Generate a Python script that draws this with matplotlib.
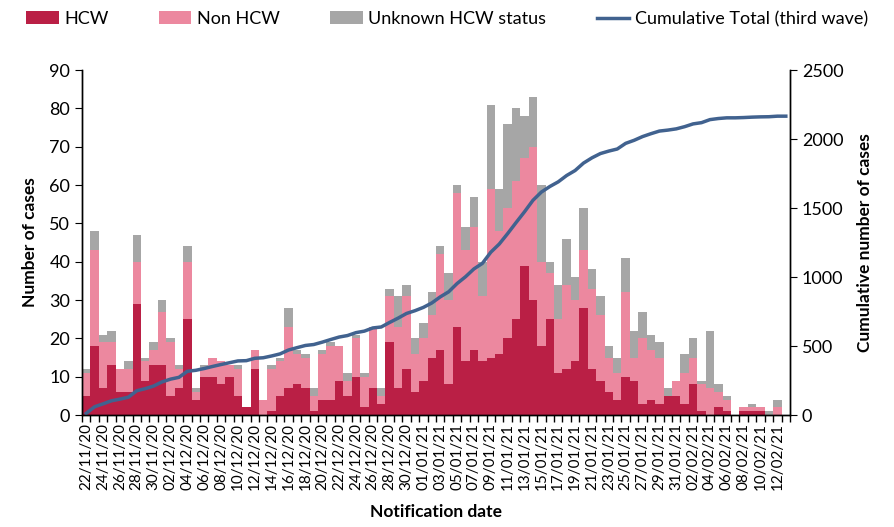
import numpy as np
import pandas as pd
import matplotlib
matplotlib.use("Agg")
import matplotlib.pyplot as plt
from matplotlib.ticker import MultipleLocator

plt.rcParams["font.family"] = ["Lato", "DejaVu Sans"]

# daily notifications, 22/11/20 .. 13/02/21
dates = pd.date_range("2020-11-22", "2021-02-13", freq="D")

hcw = [5, 18, 7, 13, 6, 6, 29, 9, 13, 13, 5, 7, 25, 4, 10, 10, 8, 10, 5, 2,
       12, 0, 1, 5, 7, 8, 7, 1, 4, 4, 9, 5, 10, 2, 7, 3, 19, 7, 12, 6,
       9, 15, 17, 8, 23, 14, 17, 14, 15, 16, 20, 25, 39, 30, 18, 25, 11, 12, 14, 28,
       12, 9, 6, 4, 10, 9, 3, 4, 3, 5, 5, 3, 8, 1, 0, 2, 1, 0, 1, 1,
       1, 0, 0, 0]
non_hcw = [6, 25, 12, 6, 6, 6, 11, 5, 4, 14, 14, 5, 15, 2, 2, 5, 6, 3, 7, 0,
           5, 4, 11, 9, 16, 8, 8, 4, 12, 14, 9, 4, 10, 8, 16, 2, 12, 16, 19, 10,
           11, 11, 25, 22, 35, 29, 32, 17, 44, 32, 34, 36, 28, 40, 22, 12, 14, 22, 16, 15,
           21, 17, 9, 7, 22, 6, 17, 13, 12, 0, 4, 8, 7, 7, 7, 4, 3, 0, 1, 1,
           1, 0, 2, 0]
unknown = [1, 5, 2, 3, 0, 2, 7, 1, 2, 3, 1, 1, 4, 1, 1, 0, 0, 0, 1, 0,
           0, 0, 1, 1, 5, 1, 1, 2, 1, 1, 0, 2, 1, 1, 0, 2, 2, 8, 3, 4,
           4, 6, 2, 7, 2, 6, 8, 9, 22, 11, 22, 19, 11, 13, 20, 3, 9, 12, 6, 11,
           5, 5, 3, 4, 9, 7, 7, 4, 4, 2, 0, 5, 5, 1, 15, 2, 1, 0, 0, 1,
           0, 1, 2, 0]

HCW_COLOR = "#BA1F45"
NON_HCW_COLOR = "#EC889F"
UNKNOWN_COLOR = "#A6A6A6"
LINE_COLOR = "#41628F"


# stacked daily bars on the left axis
def draw_bars(ax, x):
    h = np.array(hcw)
    n = np.array(non_hcw)
    u = np.array(unknown)
    b1 = ax.bar(x, h, width=1.0, color=HCW_COLOR, label="HCW")
    b2 = ax.bar(x, n, width=1.0, bottom=h, color=NON_HCW_COLOR, label="Non HCW")
    b3 = ax.bar(x, u, width=1.0, bottom=h + n, color=UNKNOWN_COLOR,
                label="Unknown HCW status")
    return [b1, b2, b3]


def main():
    fig = plt.figure(figsize=(8.94, 5.27), dpi=100)
    ax = fig.add_axes([0.0917, 0.2125, 0.792, 0.6545])
    x = np.arange(len(dates))

    handles = draw_bars(ax, x)

    # cumulative total on the right axis
    total = np.array(hcw) + np.array(non_hcw) + np.array(unknown)
    ax2 = ax.twinx()
    line, = ax2.plot(x, np.cumsum(total), color=LINE_COLOR, lw=2.5,
                     label="Cumulative Total (third wave)")
    handles.append(line)

    ax.set_xlim(-0.5, len(dates) - 0.5)
    ax.set_ylim(0, 90)
    ax.yaxis.set_major_locator(MultipleLocator(10))
    ax2.set_ylim(0, 2500)
    ax2.yaxis.set_major_locator(MultipleLocator(500))

    ax.set_xticks(x[::2])
    ax.set_xticklabels([d.strftime("%d/%m/%y") for d in dates[::2]],
                       rotation=90, fontsize=11)
    ax.set_xticks(np.arange(-0.5, len(dates), 1), minor=True)
    ax.tick_params(axis="x", which="major", length=0, pad=6)
    ax.tick_params(axis="x", which="minor", length=5, width=1)
    ax.tick_params(axis="y", labelsize=13, length=5)
    ax2.tick_params(axis="y", labelsize=13, length=5)

    for a in (ax, ax2):
        a.spines["top"].set_visible(False)
        for s in ("left", "right", "bottom"):
            a.spines[s].set_linewidth(1.0)

    ax.set_ylabel("Number of cases", fontsize=12.5, fontweight="bold", labelpad=8)
    ax2.set_ylabel("Cumulative number of cases", fontsize=12.5,
                   fontweight="bold", labelpad=10)
    ax.set_xlabel("Notification date", fontsize=12.5, fontweight="bold", labelpad=10)

    fig.legend(handles=handles, loc="upper center", bbox_to_anchor=(0.5, 1.01),
               ncol=4, frameon=False, fontsize=13, handlelength=1.8,
               handletextpad=0.3, columnspacing=2.8)

    fig.savefig("out.png", dpi=100)


if __name__ == "__main__":
    main()
